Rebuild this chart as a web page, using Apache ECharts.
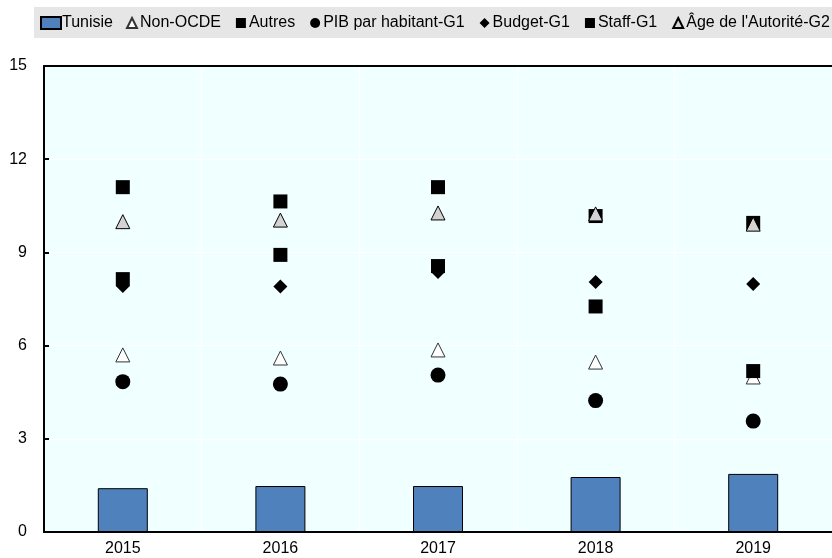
<!DOCTYPE html>
<html><head><meta charset="utf-8">
<script src="https://cdn.jsdelivr.net/npm/echarts@6/dist/echarts.min.js"></script>
<style>html,body{margin:0;padding:0;background:#fff}#chart{width:832px;height:558px}</style>
</head><body><div id="chart"></div>
<script>
// Categories and values per series
const years = ['2015', '2016', '2017', '2018', '2019'];
const tunisie = [1.41, 1.48, 1.48, 1.77, 1.87];
const nonOcde = [5.70, 5.60, 5.86, 5.47, 4.99];
const autres = [11.10, 10.64, 11.10, 10.17, 9.95];
const pibG1 = [4.84, 4.76, 5.05, 4.23, 3.57];
const budgetG1 = [7.92, 7.90, 8.37, 8.05, 7.98];
const staffG1 = [8.14, 8.92, 8.56, 7.26, 5.18];
const ageG2 = [9.99, 10.04, 10.27, 10.24, 9.91];
const yMin = 0, yMax = 15, yStep = 3;

const FONT = "'Liberation Sans', Arial, sans-serif";
const chart = echarts.init(document.getElementById('chart'), null, { renderer: 'canvas' });

function scatter(name, data, symbol, size, fill, border) {
  return {
    name, type: 'scatter', data, symbol, symbolSize: size,
    itemStyle: { color: fill, borderColor: border || fill, borderWidth: border ? 1 : 0, opacity: 1 },
    emphasis: { disabled: true }
  };
}

chart.setOption({
  animation: false,
  textStyle: { fontFamily: FONT },
  graphic: [{
    type: 'rect', left: 34, top: 7, z: -10,
    shape: { width: 798, height: 31 },
    style: { fill: '#E6E6E6' }
  }],
  legend: [{
    data: [{ name: 'Tunisie', icon: 'rect' }],
    left: 40, top: 15, padding: 0,
    itemWidth: 20, itemHeight: 12, itemGap: 0,
    textStyle: { fontFamily: FONT, fontSize: 16, color: '#000', padding: [0, 0, 0, -4] },
    selectedMode: false
  }, {
    data: ['Non-OCDE', 'Autres', 'PIB par habitant-G1', 'Budget-G1', 'Staff-G1', "Âge de l'Autorité-G2"],
    left: 126, top: 15, padding: 0,
    itemWidth: 10, itemHeight: 10, itemGap: 15,
    textStyle: { fontFamily: FONT, fontSize: 16, color: '#000', padding: [0, 0, 0, -2] },
    selectedMode: false
  }],
  grid: {
    left: 44, top: 66, right: -1, bottom: 26,
    show: true, backgroundColor: '#F0FFFF', borderWidth: 0
  },
  xAxis: [{
    type: 'category', data: years,
    axisLine: { lineStyle: { color: '#000', width: 2 } },
    axisTick: { inside: true, length: 5, lineStyle: { color: '#000', width: 2 } },
    axisLabel: { color: '#000', fontSize: 16, fontFamily: FONT, margin: 9 },
    splitLine: { show: true, lineStyle: { color: '#FFFFFF', width: 1 } }
  }, {
    type: 'category', data: years, position: 'top',
    axisLine: { show: true, lineStyle: { color: '#000', width: 2 } },
    axisTick: { show: false }, axisLabel: { show: false }, splitLine: { show: false }
  }],
  yAxis: {
    type: 'value', min: yMin, max: yMax, interval: yStep,
    axisLine: { show: true, lineStyle: { color: '#000', width: 2 } },
    axisTick: { show: true, inside: true, length: 5, lineStyle: { color: '#000', width: 2 } },
    axisLabel: { color: '#000', fontSize: 16, fontFamily: FONT, margin: 17 },
    splitLine: { show: true, lineStyle: { color: '#FFFFFF', width: 1 } }
  },
  series: [
    {
      name: 'Tunisie', type: 'bar', data: tunisie, barWidth: 50,
      itemStyle: { color: '#4F81BD', borderColor: '#000', borderWidth: 1 },
      emphasis: { disabled: true }
    },
    scatter('Non-OCDE', nonOcde, 'triangle', 14, '#FFFFFF', '#333'),
    scatter('Autres', autres, 'rect', 14, '#000'),
    scatter('PIB par habitant-G1', pibG1, 'circle', 15, '#000'),
    scatter('Budget-G1', budgetG1, 'diamond', 14, '#000'),
    scatter('Staff-G1', staffG1, 'rect', 14, '#000'),
    scatter("Âge de l'Autorité-G2", ageG2, 'triangle', 14, '#D3D3D3', '#000')
  ]
});
</script>
</body></html>
